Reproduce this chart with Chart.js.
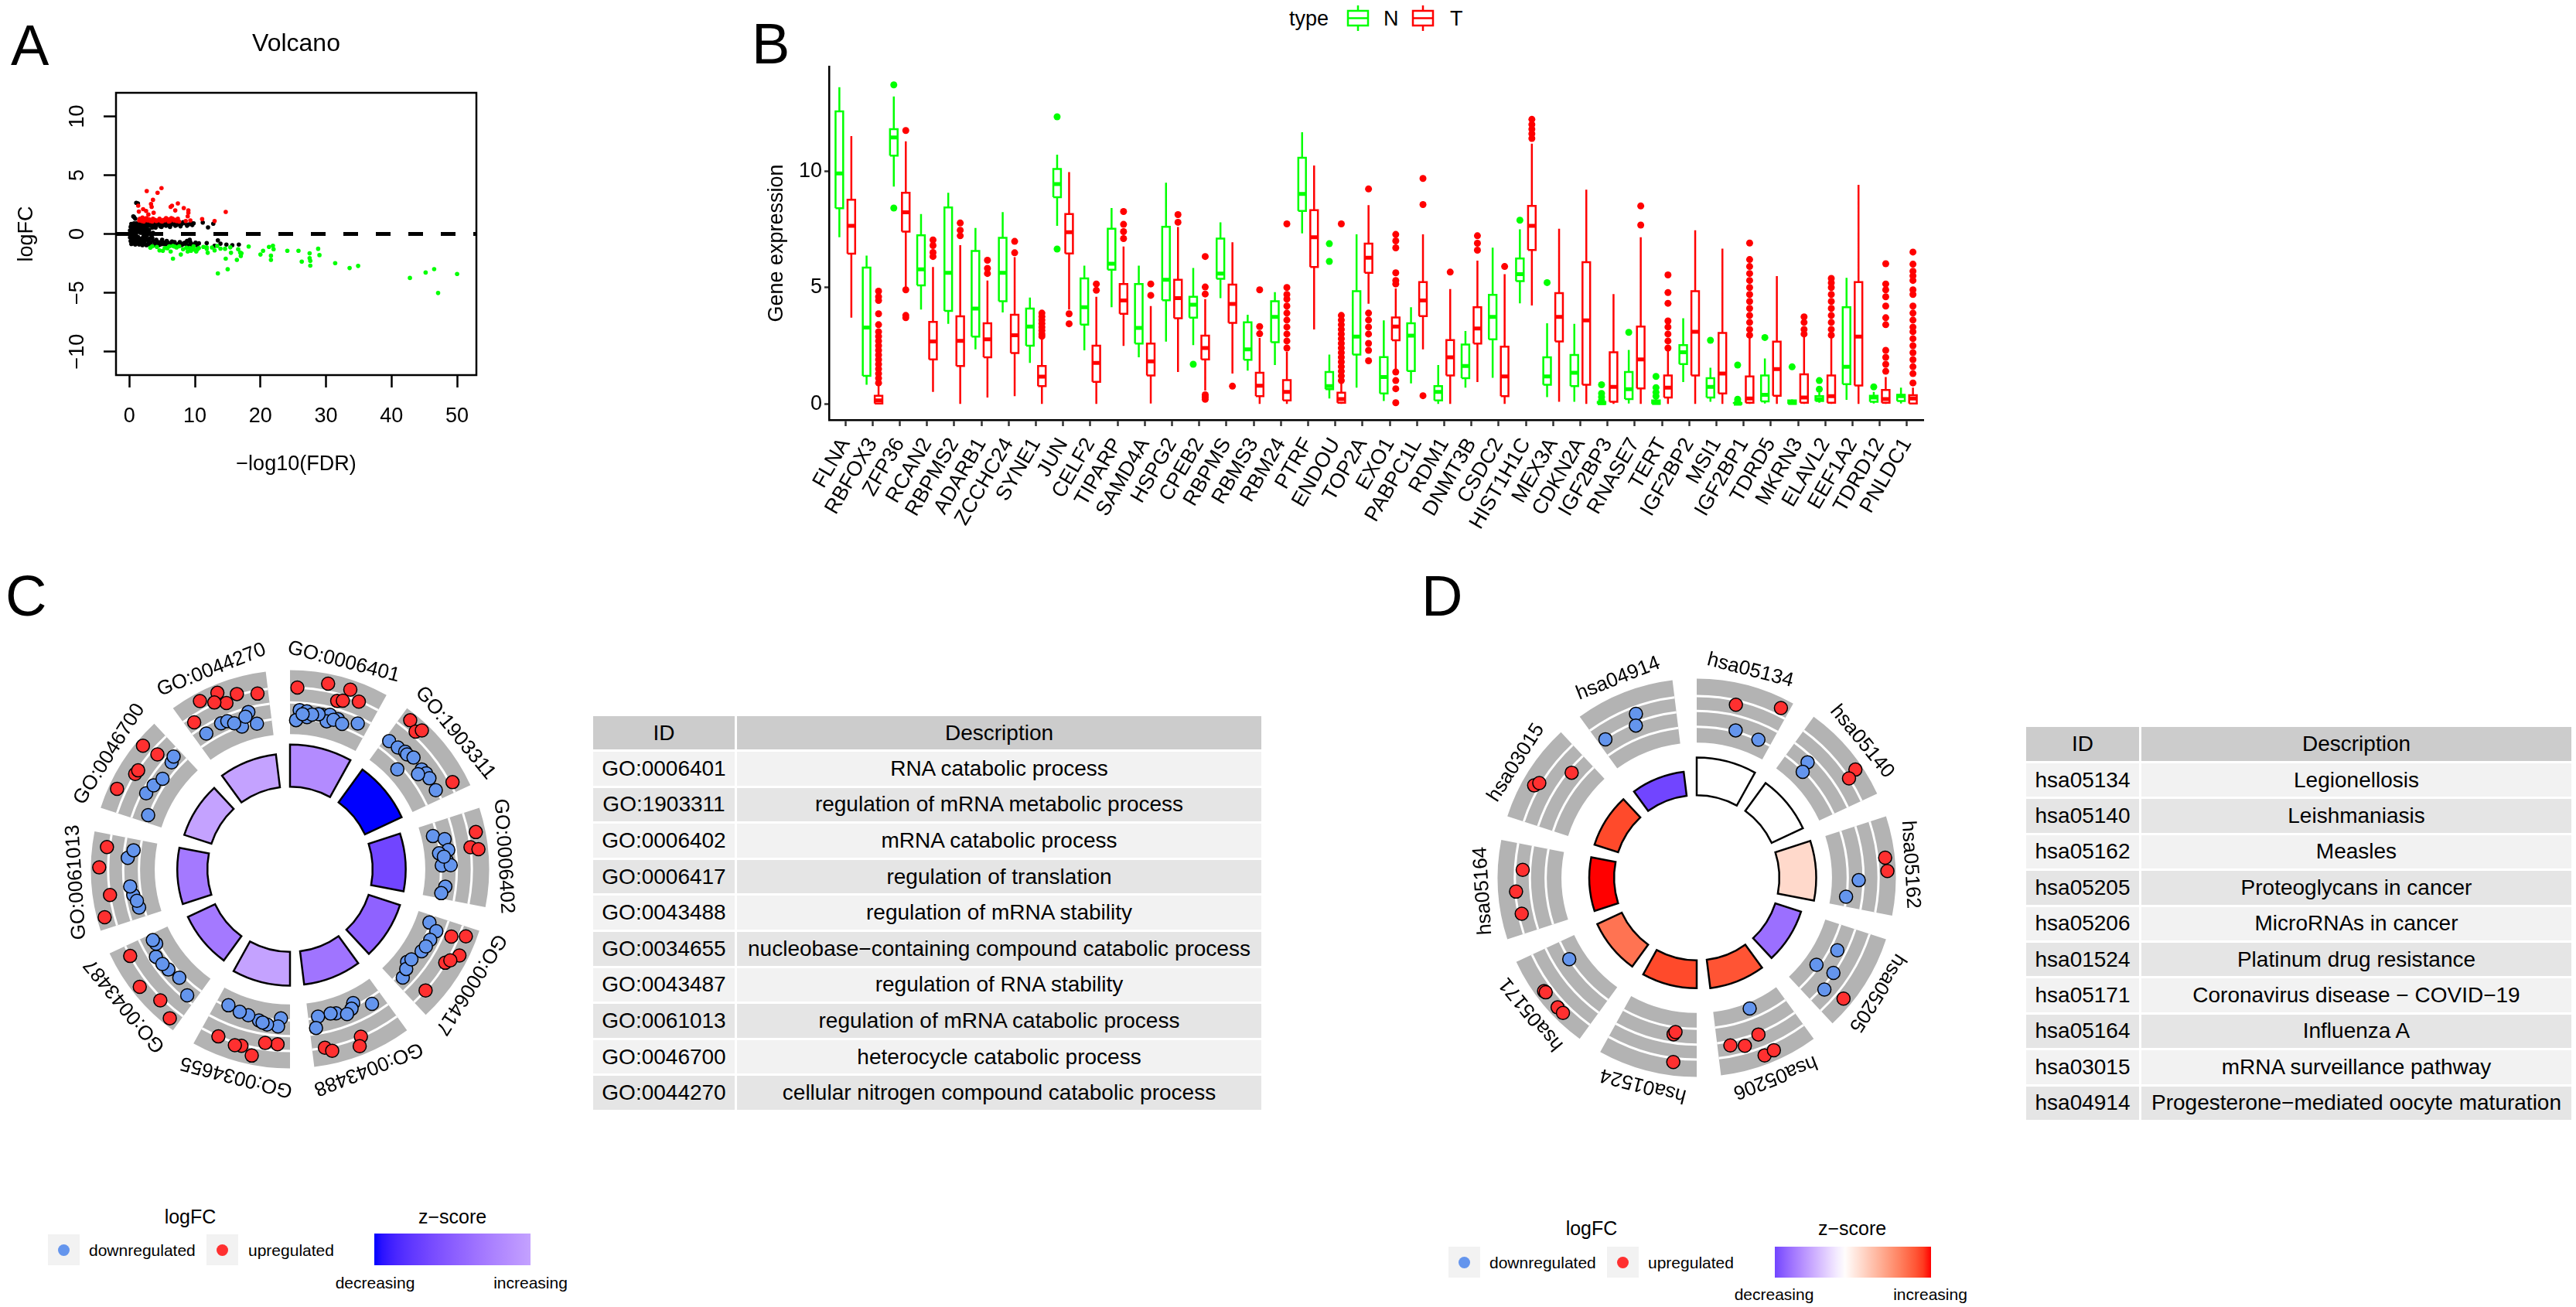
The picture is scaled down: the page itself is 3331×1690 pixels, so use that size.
<!DOCTYPE html>
<html>
<head>
<meta charset="utf-8">
<title>Expression figure</title>
<script src="https://cdn.jsdelivr.net/npm/chart.js@4.4.1/dist/chart.umd.min.js"></script>
<style>
  html, body { margin: 0; padding: 0; background: #fff; }
  body { position: relative; width: 3331px; height: 1690px; overflow: hidden;
         font-family: "Liberation Sans", Arial, sans-serif; color: #000; }
  .box { position: absolute; }
  .letter { position: absolute; font-size: 74px; line-height: 1; }
  .txt { position: absolute; white-space: nowrap; line-height: 1; }
  .ctr { transform: translate(-50%, -50%); }
  .mid { transform: translateY(-50%); }
  table.tbl { position: absolute; border-collapse: separate; border-spacing: 3px; table-layout: fixed;
              font-size: 28px; background: #fff; }
  table.tbl th { background: #CCCCCC; font-weight: normal; padding: 0; text-align: center; }
  table.tbl td { padding: 0; text-align: center; white-space: nowrap; }
  table.tbl tr:nth-child(even) td { background: #F2F2F2; }
  table.tbl tr:nth-child(odd) td { background: #E5E5E5; }
  .key { position: absolute; background: #F2F2F2; }
  .dot { position: absolute; border-radius: 50%; }
</style>
</head>
<body>

<div class="letter" style="left:14px;top:22px">A</div>
<div class="letter" style="left:972px;top:20px">B</div>
<div class="letter" style="left:7px;top:734px;z-index:2">C</div>
<div class="letter" style="left:1838px;top:734px;z-index:2">D</div>

<canvas id="volcano" class="box" style="left:0;top:0" width="660" height="640"></canvas>
<canvas id="boxes" class="box" style="left:960px;top:60px" width="1560" height="640"></canvas>
<canvas id="goCircle" class="box" style="left:25px;top:774px" width="700" height="700"></canvas>
<canvas id="keggCircle" class="box" style="left:1844px;top:785px" width="700" height="700"></canvas>

<!-- B legend -->
<div class="txt mid" style="left:1667px;top:24px;font-size:27px">type</div>
<svg class="box" style="left:1740px;top:7px" width="32" height="33">
  <line x1="16" y1="0" x2="16" y2="33" stroke="#00FF00" stroke-width="2.5"/>
  <rect x="3" y="7" width="26" height="19" fill="#fff" stroke="#00FF00" stroke-width="2.5"/>
  <line x1="3" y1="16.5" x2="29" y2="16.5" stroke="#00FF00" stroke-width="2.5"/>
</svg>
<div class="txt mid" style="left:1789px;top:24px;font-size:27px">N</div>
<svg class="box" style="left:1824px;top:7px" width="32" height="33">
  <line x1="16" y1="0" x2="16" y2="33" stroke="#FF0000" stroke-width="2.5"/>
  <rect x="3" y="7" width="26" height="19" fill="#fff" stroke="#FF0000" stroke-width="2.5"/>
  <line x1="3" y1="16.5" x2="29" y2="16.5" stroke="#FF0000" stroke-width="2.5"/>
</svg>
<div class="txt mid" style="left:1875px;top:24px;font-size:27px">T</div>

<!-- tables -->
<table id="goTable" class="tbl" style="left:764px;top:923px;width:870px"></table>
<table id="keggTable" class="tbl" style="left:2617px;top:937px;width:711px"></table>

<!-- C legend -->
<div class="txt ctr" style="left:246px;top:1573px;font-size:25px">logFC</div>
<div class="key" style="left:62px;top:1596px;width:41px;height:40px"></div>
<div class="dot" style="left:75px;top:1608.5px;width:15px;height:15px;background:#6495ED"></div>
<div class="txt mid" style="left:115px;top:1616px;font-size:21px">downregulated</div>
<div class="key" style="left:267px;top:1596px;width:41px;height:40px"></div>
<div class="dot" style="left:280px;top:1608.5px;width:15px;height:15px;background:#FF3030"></div>
<div class="txt mid" style="left:321px;top:1616px;font-size:21px">upregulated</div>
<div class="txt ctr" style="left:585px;top:1573px;font-size:25px">z−score</div>
<div id="gradC" class="box" style="left:484px;top:1595px;width:202px;height:41px"></div>
<div class="txt ctr" style="left:485px;top:1658px;font-size:21px">decreasing</div>
<div class="txt ctr" style="left:686px;top:1658px;font-size:21px">increasing</div>

<!-- D legend -->
<div class="txt ctr" style="left:2058px;top:1588px;font-size:25px">logFC</div>
<div class="key" style="left:1873px;top:1612px;width:41px;height:40px"></div>
<div class="dot" style="left:1886px;top:1624.5px;width:15px;height:15px;background:#6495ED"></div>
<div class="txt mid" style="left:1926px;top:1632px;font-size:21px">downregulated</div>
<div class="key" style="left:2078px;top:1612px;width:41px;height:40px"></div>
<div class="dot" style="left:2091px;top:1624.5px;width:15px;height:15px;background:#FF3030"></div>
<div class="txt mid" style="left:2131px;top:1632px;font-size:21px">upregulated</div>
<div class="txt ctr" style="left:2395px;top:1588px;font-size:25px">z−score</div>
<div id="gradD" class="box" style="left:2295px;top:1612px;width:202px;height:40px"></div>
<div class="txt ctr" style="left:2294px;top:1673px;font-size:21px">decreasing</div>
<div class="txt ctr" style="left:2496px;top:1673px;font-size:21px">increasing</div>

<script>
const FONT = '"Liberation Sans", Arial, sans-serif';
Chart.defaults.font.family = FONT;
Chart.defaults.color = '#000';

// ---------- A: volcano (x = -log10 FDR, y = logFC) ----------
const volcanoNs = [
  [0.3,0.05],[0.4,-0.1],[0.5,0.2],[0.5,-0.3],[0.6,0.4],[0.6,-0.45],[0.7,0.1],[0.7,-0.15],[0.8,0.55],[0.8,-0.6],
  [0.9,0.3],[0.9,-0.35],[1.0,0.65],[1.0,-0.7],[1.0,0.0],[1.1,0.45],[1.1,-0.5],[1.2,0.8],[1.2,-0.8],[1.3,0.2],
  [1.3,-0.25],[1.4,0.6],[1.4,-0.65],[1.5,0.9],[1.5,-0.9],[1.6,0.35],[1.6,-0.4],[0.9,1.3],[0.7,1.45],[1.05,2.65],
  [1.3,2.6],[0.6,1.5],
  [0.0,0.0],[0.1,0.3],[0.1,-0.3],[0.2,0.6],[0.2,-0.6],[0.3,0.85],[0.3,-0.85],[0.4,0.3],[0.4,-0.6],[0.5,0.75],
  [0.6,-0.8],[0.7,0.6],[0.7,0.9],[0.8,-0.4],[0.9,0.85],[0.9,-0.9],[1.0,-0.2],[1.1,0.9],[1.2,0.4],[1.2,-0.4],
  [1.3,0.75],[1.3,-0.75],[1.4,0.3],[1.5,0.55],[1.5,-0.55],[1.6,0.8],[1.6,-0.8],[1.7,0.1],[1.8,0.4],[1.8,-0.4],
  [0.5,0.45],[0.3,0.2],[1.1,0.15],
  [2.0,0.1],[2.4,0.05],[2.8,0.15],[3.2,0.05],[3.6,0.1],[2.2,-0.15],[2.7,-0.1],[3.4,-0.15],
  [1.8,0.75],[2.0,0.95],[2.2,0.6],[2.4,0.85],[2.6,0.5],[2.8,0.9],[3.0,0.7],[3.3,0.95],[3.5,0.55],[3.8,0.85],
  [4.1,0.75],[4.4,0.95],[4.7,0.65],[5.0,0.85],[5.3,0.9],[5.6,0.7],[6.0,0.95],[6.4,0.8],[6.8,0.9],[7.2,0.75],
  [7.6,0.95],[8.0,0.85],[8.5,0.9],[9.0,0.8],[9.4,0.95],[2.1,0.3],[2.5,0.25],[3.0,0.35],[2.3,0.15],
  [2.0,0.6],[2.3,1.0],[2.7,0.7],[3.1,1.0],[3.4,0.7],[3.7,1.0],[4.0,0.55],[4.3,0.8],[4.6,0.95],[4.9,0.6],
  [5.2,0.75],[5.5,1.0],[5.8,0.85],[6.2,0.6],[6.6,1.0],[7.0,0.7],[7.4,0.85],[7.8,0.65],[8.2,1.0],[8.8,0.7],
  [9.6,0.75],[9.8,0.9],
  [11.2,0.97],[12.0,0.56],[12.8,0.87],
  [1.8,-0.75],[2.0,-0.95],[2.2,-0.6],[2.4,-0.85],[2.6,-0.5],[2.8,-0.9],[3.0,-0.7],[3.3,-0.95],[3.6,-0.6],[3.9,-0.85],
  [4.2,-0.75],[4.5,-0.95],[4.8,-0.7],[5.1,-0.85],[5.5,-0.9],[5.9,-0.75],[6.3,-0.95],[6.7,-0.8],[7.1,-0.9],[7.5,-0.85],
  [7.9,-0.95],[8.3,-0.8],[8.7,-0.9],[9.1,-0.95],[9.5,-0.85],[9.9,-0.9],[10.3,-0.95],[10.6,-0.8],[2.1,-0.3],[2.5,-0.2],
  [3.1,-0.4],[2.3,-0.1],
  [2.0,-0.5],[2.3,-0.75],[2.6,-0.95],[2.9,-0.45],[3.2,-0.8],[3.5,-0.35],[3.8,-0.95],[4.1,-0.5],[4.4,-0.7],[4.7,-0.9],
  [5.0,-0.5],[5.3,-0.75],[5.7,-0.6],[6.1,-0.85],[6.5,-0.65],[6.9,-0.7],[7.3,-0.95],[7.7,-0.7],[8.1,-0.9],[8.5,-0.75],
  [9.3,-0.7],[9.7,-0.95],[10.1,-0.75],
  [11.8,-0.78],[13.0,-1.0],[13.5,-0.55],[13.9,-0.83],[14.8,-0.9],[15.7,-0.95],[16.7,-0.9],
  [9.2,-0.5],[8.8,-0.6]
];
const volcanoUp = [
  [2.65,3.65],[4.9,3.9],[4.3,3.5],[3.6,2.9],[3.3,2.55],[3.4,2.3],[7.4,2.6],[6.5,2.4],[6.3,2.3],[7.0,2.0],
  [8.3,2.2],[9.0,2.0],[9.0,1.8],[8.9,1.5],[1.35,2.4],[1.45,1.9],[2.1,2.1],[2.55,1.95],[2.9,1.65],[3.7,1.8],
  [14.7,1.87],[11.1,1.26],[13.0,1.1],[1.5,1.15],[1.9,1.1],[2.4,1.2],[2.8,1.15],[3.2,1.1],[3.9,1.2],[4.3,1.15],
  [4.8,1.1],[5.2,1.2],[5.9,1.25],[6.2,1.1],[6.6,1.3],[7.0,1.2],[7.6,1.05],[8.6,1.1],[9.3,1.15],[2.0,1.4],
  [5.6,1.35],[6.8,1.15],
  [1.6,1.3],[2.2,1.05],[2.6,1.35],[3.0,1.25],[3.5,1.05],[3.6,1.3],[4.1,1.1],[4.6,1.3],[5.0,1.05],[5.4,1.15],
  [6.0,1.05],[6.4,1.35],[7.2,1.1],[7.4,1.3]
];
const volcanoDown = [
  [3.2,-1.17],[5.1,-1.43],[5.8,-1.21],[6.65,-1.02],[6.65,-2.1],[6.9,-1.07],[7.85,-1.75],[8.7,-1.17],[8.9,-1.5],
  [9.4,-1.43],[9.6,-1.26],[9.9,-1.33],[10.4,-1.3],[11.8,-1.14],[11.8,-1.26],[11.95,-1.6],[13.5,-3.35],[13.4,-1.02],
  [14.6,-1.26],[14.7,-2.1],[15.0,-3.0],[15.4,-1.14],[15.5,-1.6],[16.4,-2.2],[16.6,-1.3],[16.9,-1.58],[17.1,-1.65],
  [17.0,-1.87],[18.2,-1.07],[20.0,-1.75],[20.4,-1.43],[21.3,-1.1],[21.6,-1.85],[21.6,-2.2],[21.9,-1.0],[22.0,-1.3],
  [24.1,-1.43],[25.8,-1.43],[26.3,-2.35],[27.5,-1.65],[27.5,-2.06],[27.6,-2.28],[27.6,-2.7],[28.8,-1.26],[29.0,-1.8],
  [31.4,-2.48],[33.6,-2.9],[34.9,-2.72],[42.8,-3.74],[45.2,-3.28],[46.5,-2.99],[47.1,-5.02],[50.0,-3.4],
  [3.5,-1.05],[4.2,-1.1],[4.6,-1.4],[5.4,-1.2],[6.1,-1.05],[6.3,-1.5],[7.2,-1.15],[7.6,-1.05],[8.2,-1.3],
  [9.2,-1.2],[9.8,-1.05],[10.2,-1.5],[10.6,-1.2],[11.3,-1.1],[12.6,-1.15],[13.0,-1.4],[13.9,-1.25]
];

// ---------- B: gene expression, N vs T ----------
const genes = ['FLNA','RBFOX3','ZFP36','RCAN2','RBPMS2','ADARB1','ZCCHC24','SYNE1','JUN','CELF2',
  'TIPARP','SAMD4A','HSPG2','CPEB2','RBPMS','RBMS3','RBM24','PTRF','ENDOU','TOP2A',
  'EXO1','PABPC1L','RDM1','DNMT3B','CSDC2','HIST1H1C','MEX3A','CDKN2A','IGF2BP3','RNASE7',
  'TERT','IGF2BP2','MSI1','IGF2BP1','TDRD5','MKRN3','ELAVL2','EEF1A2','TDRD12','PNLDC1'];
// [lower whisker, Q1, median, Q3, upper whisker]
const nStats = [
  [7.16,8.4,9.9,12.56,13.6],[0.82,1.2,3.28,5.85,6.37],[9.33,10.66,11.44,11.8,13.2],[4.05,5.09,5.78,7.24,8.15],
  [3.44,3.99,5.63,8.44,9.07],[2.34,2.89,4.09,6.57,7.56],[3.93,4.41,5.63,7.13,8.24],[1.76,2.5,3.32,4.09,4.57],
  [7.65,8.88,9.44,10.09,10.7],[2.3,3.4,4.15,5.39,5.94],[4.15,5.76,6.02,7.52,8.41],[2.0,2.59,3.26,5.15,5.94],
  [2.67,4.45,5.33,7.61,9.5],[2.52,3.7,4.26,4.6,5.84],[4.54,5.37,5.6,7.1,7.8],[1.43,1.89,2.34,3.5,3.83],
  [1.67,2.65,3.74,4.41,4.8],[7.32,8.29,9.02,10.57,11.67],[0.23,0.63,0.76,1.37,2.12],[0.7,2.12,2.89,4.84,7.28],
  [0.12,0.45,1.15,2.01,3.59],[0.88,1.41,2.93,3.46,4.15],[0,0.15,0.51,0.76,1.67],[0.7,1.1,1.63,2.55,3.13],
  [1.12,2.77,3.74,4.68,6.71],[4.32,5.27,5.57,6.24,7.5],[0.29,0.82,1.18,2.0,3.46],[0.09,0.76,1.34,2.1,3.44],
  [0,0,0.03,0.08,0.12],[0.02,0.21,0.63,1.37,2.32],[0,0,0.05,0.15,0.25],[0.94,1.71,2.22,2.52,3.68],
  [0.09,0.27,0.73,1.1,1.55],[0,0,0.01,0.03,0.05],[0.02,0.11,0.39,1.22,1.95],[0,0,0.05,0.15,0.2],
  [0.05,0.12,0.2,0.33,0.5],[0.17,0.85,1.59,4.15,5.41],[0.02,0.09,0.27,0.35,0.51],[0.02,0.12,0.33,0.39,0.7]
];
const nOutliers = [
  [],[],[13.7,8.41],[],[],[],[],[],[12.33,6.65],[],
  [],[],[],[1.7],[],[],[],[],[6.88,6.12],[],
  [],[],[],[],[],[7.89],[5.21],[],[0.82,0.45,0.3,0.15],[3.07],
  [1.18,0.7,0.5,0.33],[],[2.73],[1.67,0.2,0.1],[2.85],[1.59],[1.0,0.63],[],[0.73],[]
];
const tStats = [
  [3.7,6.45,7.65,8.77,11.5],[0,0.02,0.15,0.35,0.8],[5.0,7.4,8.23,9.07,11.28],[0.51,1.91,2.68,3.52,5.88],
  [0,1.63,2.71,3.76,6.82],[0.27,2.0,2.77,3.46,5.3],[0.33,2.18,2.95,3.83,6.3],[0,0.76,1.17,1.63,2.83],
  [4.05,6.46,7.37,8.15,9.96],[0,0.95,1.76,2.5,4.6],[2.49,3.87,4.44,5.15,6.76],[0.02,1.22,1.83,2.59,4.2],
  [1.37,3.68,4.54,5.33,7.6],[0.57,1.91,2.4,2.93,4.5],[1.3,3.48,4.29,5.12,6.94],[0,0.33,0.78,1.34,2.83],
  [0,0.15,0.51,1.02,2.24],[3.2,5.88,7.16,8.32,10.24],[0,0.05,0.21,0.48,0.88],[4.3,5.63,6.28,6.88,8.54],
  [1.49,2.73,3.32,3.71,4.96],[2.34,3.77,4.44,5.23,7.28],[0,1.22,2.0,2.74,4.93],[0.94,2.59,3.24,4.15,6.15],
  [0,0.33,1.18,2.46,5.57],[4.23,6.61,7.65,8.5,11.18],[0.09,2.68,3.74,4.76,7.52],[0,0.82,3.59,6.09,9.2],
  [0,0.09,0.73,2.22,4.72],[0,0.66,1.91,3.32,7.16],[0,0.27,0.7,1.22,2.37],[0,1.22,3.1,4.84,7.46],
  [0,0.45,1.3,3.05,6.67],[0,0.05,0.23,1.18,2.83],[0,0.35,1.49,2.67,5.49],[0,0.05,0.27,1.27,2.95],
  [0,0.05,0.33,1.22,2.83],[0,0.79,2.89,5.23,9.41],[0,0.05,0.21,0.6,1.15],[0,0.02,0.23,0.37,0.7]
];
const tOutliers = [
  [],
  [4.84,4.6,4.44,3.87,3.4,3.1,2.9,2.7,2.5,2.3,2.1,1.9,1.7,1.5,1.3,1.1,0.9],
  [11.74,4.9,3.8,3.7],[7.04,6.8,6.5,6.33],[7.77,7.46,7.22],[6.17,5.82,5.6],[6.98,6.49],
  [3.9,3.75,3.6,3.45,3.3,3.15,3.0,2.9],[3.87,3.44],[5.15,4.88],[8.26,7.71,7.4,7.1],[5.15,4.66],[8.13,7.8],
  [6.33,5.02,4.72,0.39,0.3,0.2],[0.76],[4.9,3.32,3.01],
  [7.73,5.0,4.7,4.5,4.2,3.9,3.6,3.3,3.0,2.7,2.4],[],
  [7.73,3.8,3.6,3.4,3.2,3.0,2.8,2.6,2.4,2.2,2.0,1.8,1.6,1.4,1.2,1.0],
  [9.23,3.9,3.6,3.3,3.0,2.6,2.3,1.85],[7.28,7.0,6.7,5.63,5.3,5.15,1.37,1.0,0.65,0.05],[9.68,8.56,0.35],
  [5.66],[7.22,6.9,6.6],[5.9],[12.22,12.0,11.8,11.6,11.4],[],[],[],[8.5,7.68],
  [5.54,4.78,4.32,3.56,3.3,3.0,2.7,2.4],[],[],
  [6.91,6.2,5.9,5.6,5.3,5.0,4.7,4.4,4.1,3.8,3.5,3.2,2.95],[],[3.74,3.5,3.2,3.0],
  [5.39,5.2,5.0,4.7,4.4,4.1,3.8,3.5,3.2,2.95],[],
  [6.02,5.15,4.9,4.6,4.2,3.7,3.4,2.3,2.0,1.7,1.4],
  [6.52,6.0,5.7,5.5,5.3,4.9,4.7,4.2,3.9,3.6,3.3,3.1,2.8,2.5,2.2,1.9,1.6,1.3,0.9]
];

// ---------- C: GO terms ----------
const goIds = ['GO:0006401','GO:1903311','GO:0006402','GO:0006417','GO:0043488',
  'GO:0034655','GO:0043487','GO:0061013','GO:0046700','GO:0044270'];
const goDesc = ['RNA catabolic process','regulation of mRNA metabolic process','mRNA catabolic process',
  'regulation of translation','regulation of mRNA stability','nucleobase−containing compound catabolic process',
  'regulation of RNA stability','regulation of mRNA catabolic process','heterocycle catabolic process',
  'cellular nitrogen compound catabolic process'];
const goSig = [5.6, 5.4, 4.4, 4.4, 4.45, 4.5, 4.0, 4.0, 3.8, 4.4];
const goZ = [-2.5, -5.0, -4.0, -3.4, -3.0, -2.0, -2.9, -2.9, -2.0, -2.0];
// genes per term: [position along the term (0..1), position across the logFC band (0..1)]
const goUp = [
  [[0.08,0.73],[0.40,0.85],[0.64,0.85],[0.54,0.62],[0.60,0.65],[0.77,0.72]],
  [[0.10,0.88],[0.22,0.80],[0.26,0.88],[0.89,0.77]],
  [[0.23,0.85],[0.38,0.73],[0.41,0.85]],
  [[0.16,0.62],[0.10,0.83],[0.31,0.86],[0.45,0.72],[0.40,0.77],[0.82,0.73]],
  [[0.45,0.73],[0.50,0.86],[0.86,0.73],[0.79,0.80]],
  [[0.14,0.63],[0.28,0.63],[0.40,0.86],[0.53,0.75],[0.60,0.77],[0.80,0.73]],
  [[0.10,0.88],[0.30,0.77],[0.55,0.87],[0.88,0.73]],
  [[0.12,0.88],[0.34,0.73],[0.64,0.87],[0.86,0.77]],
  [[0.24,0.87],[0.47,0.73],[0.52,0.72],[0.76,0.89],[0.79,0.63]],
  [[0.10,0.63],[0.27,0.87],[0.47,0.87],[0.52,0.67],[0.66,0.75],[0.88,0.68],[0.40,0.75]]
];
const goDown = [
  [[0.12,0.38],[0.21,0.37],[0.08,0.22],[0.41,0.35],[0.50,0.38],[0.61,0.35],[0.48,0.27],[0.86,0.40],[0.22,0.28],[0.36,0.35],[0.28,0.33],[0.56,0.32],[0.68,0.30],[0.16,0.32]],
  [[0.06,0.42],[0.19,0.43],[0.29,0.46],[0.33,0.45],[0.41,0.49],[0.38,0.18],[0.58,0.47],[0.65,0.49],[0.72,0.49],[0.60,0.38],[0.88,0.48]],
  [[0.17,0.18],[0.24,0.35],[0.38,0.38],[0.41,0.23],[0.51,0.34],[0.57,0.26],[0.57,0.40],[0.84,0.33],[0.93,0.28],[0.46,0.30]],
  [[0.10,0.22],[0.17,0.37],[0.30,0.34],[0.48,0.31],[0.40,0.33],[0.70,0.22],[0.89,0.33],[0.78,0.28],[0.64,0.25]],
  [[0.16,0.35],[0.37,0.20],[0.42,0.27],[0.63,0.25],[0.70,0.23],[0.87,0.23],[0.92,0.40],[0.50,0.32]],
  [[0.12,0.22],[0.15,0.35],[0.29,0.34],[0.40,0.30],[0.55,0.26],[0.67,0.25],[0.84,0.22],[0.35,0.32]],
  [[0.11,0.43],[0.33,0.31],[0.50,0.35],[0.72,0.39],[0.86,0.28],[0.92,0.30],[0.60,0.37]],
  [[0.13,0.32],[0.30,0.37],[0.41,0.40],[0.76,0.43],[0.86,0.35],[0.22,0.33]],
  [[0.10,0.26],[0.34,0.43],[0.47,0.39],[0.60,0.33],[0.83,0.38],[0.90,0.42]],
  [[0.15,0.38],[0.37,0.41],[0.45,0.40],[0.60,0.24],[0.73,0.43],[0.80,0.22],[0.52,0.33],[0.68,0.37]]
];

// ---------- D: KEGG pathways ----------
const keggIds = ['hsa05134','hsa05140','hsa05162','hsa05205','hsa05206',
  'hsa01524','hsa05171','hsa05164','hsa03015','hsa04914'];
const keggDesc = ['Legionellosis','Leishmaniasis','Measles','Proteoglycans in cancer','MicroRNAs in cancer',
  'Platinum drug resistance','Coronavirus disease − COVID−19','Influenza A','mRNA surveillance pathway',
  'Progesterone−mediated oocyte maturation'];
const keggSig = [5.0, 4.6, 4.9, 3.6, 3.8, 3.7, 3.6, 3.3, 3.3, 3.2];
const keggZ = [0, 0, 0.8, -2.5, 3.3, 3.45, 2.8, 4.0, 3.45, -3.2];
const keggUp = [
  [[0.44,0.66],[0.91,0.85]],
  [[0.68,0.89],[0.72,0.73]],
  [[0.41,0.85],[0.55,0.87]],
  [[0.74,0.86]],
  [[0.50,0.52],[0.85,0.56],[0.69,0.62],[0.52,0.86],[0.41,0.84]],
  [[0.29,0.36],[0.27,0.32],[0.25,0.79]],
  [[0.60,0.86],[0.58,0.85],[0.38,0.86],[0.30,0.86]],
  [[0.71,0.61],[0.47,0.72],[0.22,0.68]],
  [[0.40,0.81],[0.45,0.76],[0.76,0.44]],
  []
];
const keggDown = [
  [[0.51,0.27],[0.83,0.25]],
  [[0.27,0.39],[0.31,0.23]],
  [[0.65,0.42],[0.87,0.24]],
  [[0.32,0.36],[0.62,0.20],[0.58,0.49],[0.80,0.54]],
  [[0.48,0.09]],
  [],
  [[0.74,0.25]],
  [],
  [],
  [[0.09,0.48],[0.54,0.62],[0.49,0.45]]
];

// ---------- colour helpers (Lab blend like ggplot's gradient2) ----------
function toLin(c) { c /= 255; return c <= 0.04045 ? c / 12.92 : Math.pow((c + 0.055) / 1.055, 2.4); }
function fromLin(c) {
  c = c <= 0.0031308 ? 12.92 * c : 1.055 * Math.pow(Math.max(c, 0), 1 / 2.4) - 0.055;
  return Math.round(255 * Math.min(1, Math.max(0, c)));
}
function rgbToLab(rgb) {
  const [r, g, b] = rgb.map(toLin);
  const X = (0.4124 * r + 0.3576 * g + 0.1805 * b) / 0.95047;
  const Y = 0.2126 * r + 0.7152 * g + 0.0722 * b;
  const Z = (0.0193 * r + 0.1192 * g + 0.9505 * b) / 1.08883;
  const f = t => t > 0.008856 ? Math.cbrt(t) : 7.787 * t + 16 / 116;
  return [116 * f(Y) - 16, 500 * (f(X) - f(Y)), 200 * (f(Y) - f(Z))];
}
function labToRgb([L, a, bb]) {
  const fy = (L + 16) / 116, fx = fy + a / 500, fz = fy - bb / 200;
  const inv = t => t * t * t > 0.008856 ? t * t * t : (t - 16 / 116) / 7.787;
  const X = inv(fx) * 0.95047, Y = inv(fy), Z = inv(fz) * 1.08883;
  return [3.2406 * X - 1.5372 * Y - 0.4986 * Z,
          -0.9689 * X + 1.8758 * Y + 0.0415 * Z,
          0.0557 * X - 0.2040 * Y + 1.0570 * Z].map(fromLin);
}
const LAB_WHITE = rgbToLab([255, 255, 255]);
const LAB_BLUE = rgbToLab([0, 0, 255]);
const LAB_RED = rgbToLab([255, 0, 0]);
function zColor(z, zmax) {
  const t = Math.min(1, Math.abs(z) / zmax);
  const end = z < 0 ? LAB_BLUE : LAB_RED;
  const rgb = labToRgb(LAB_WHITE.map((w, k) => w + t * (end[k] - w)));
  return `rgb(${rgb[0]},${rgb[1]},${rgb[2]})`;
}
function gradientCss(zs) {
  const zmax = Math.max(...zs.map(Math.abs));
  const lo = Math.min(...zs), hi = Math.max(...zs);
  const stops = [];
  for (let s = 0; s <= 20; s++) {
    stops.push(`${zColor(lo + (hi - lo) * s / 20, zmax)} ${s * 5}%`);
  }
  return `linear-gradient(to right, ${stops.join(',')})`;
}

const xy = arr => arr.map(([x, y]) => ({x, y}));
const noHover = {legend: {display: false}, tooltip: {enabled: false}};

// ---------- A ----------
const plotFrame = {
  id: 'plotFrame',
  afterDatasetsDraw(chart) {
    const {ctx, chartArea: a} = chart;
    const y0 = chart.scales.y.getPixelForValue(0);
    ctx.save();
    ctx.strokeStyle = '#000';
    ctx.lineWidth = 5;
    ctx.setLineDash([19, 23]);
    ctx.beginPath(); ctx.moveTo(a.left, y0); ctx.lineTo(a.right, y0); ctx.stroke();
    ctx.setLineDash([]);
    ctx.lineWidth = 2.5;
    ctx.strokeRect(a.left, a.top, a.right - a.left, a.bottom - a.top);
    ctx.restore();
  }
};
const rTick = {display: true, drawOnChartArea: false, drawTicks: true, tickLength: 16, tickColor: '#000', tickWidth: 2.5};

new Chart(document.getElementById('volcano'), {
  type: 'scatter',
  data: {datasets: [
    {data: xy(volcanoDown), backgroundColor: '#00FF00', borderWidth: 0, pointRadius: 2.8},
    {data: xy(volcanoUp), backgroundColor: '#FF0000', borderWidth: 0, pointRadius: 2.8},
    {data: xy(volcanoNs), backgroundColor: '#000000', borderWidth: 0, pointRadius: 2.8}
  ]},
  options: {
    responsive: false, animation: false, devicePixelRatio: 1, events: [],
    layout: {padding: {top: 0, right: 44, bottom: 0, left: 0}},
    plugins: {...noHover,
      title: {display: true, text: 'Volcano', fullSize: false, color: '#000',
              font: {size: 32, weight: 'normal'}, padding: {top: 37.8, bottom: 43.8}}},
    scales: {
      x: {type: 'linear', min: -2.04, max: 52.94, afterFit: s => { s.height = 155; },
          ticks: {stepSize: 10, includeBounds: false, padding: 21, color: '#000', font: {size: 27}},
          grid: rTick, border: {display: false},
          title: {display: true, text: '−log10(FDR)', color: '#000', font: {size: 27}, padding: {top: 0, bottom: 22.8}}},
      y: {type: 'linear', min: -12, max: 12, afterFit: s => { s.width = 150; },
          ticks: {stepSize: 5, includeBounds: false, minRotation: 90, maxRotation: 90, crossAlign: 'center',
                  padding: 11, color: '#000', font: {size: 27}, callback: v => String(v).replace('-', '−')},
          grid: rTick, border: {display: false},
          title: {display: true, text: 'logFC', color: '#000', font: {size: 27}, padding: {top: 18.8, bottom: 0}}}
    }
  },
  plugins: [plotFrame]
});

// ---------- B ----------
const BOX_OFF = 0.22, BOX_HALF = 0.14;
function boxOutline(stats, off) {
  const pts = [];
  stats.forEach(([lo, q1, , q3, hi], i) => {
    const x = i + off;
    pts.push({x: x - BOX_HALF, y: q1}, {x: x + BOX_HALF, y: q1}, {x: x + BOX_HALF, y: q3},
             {x: x - BOX_HALF, y: q3}, {x: x - BOX_HALF, y: q1}, {x, y: null},
             {x, y: q3}, {x, y: hi}, {x, y: null}, {x, y: lo}, {x, y: q1}, {x, y: null});
  });
  return pts;
}
function medians(stats, off) {
  const pts = [];
  stats.forEach((s, i) => {
    const x = i + off;
    pts.push({x: x - BOX_HALF, y: s[2]}, {x: x + BOX_HALF, y: s[2]}, {x, y: null});
  });
  return pts;
}
function outlierPts(list, off) {
  const pts = [];
  list.forEach((vals, i) => vals.forEach(v => pts.push({x: i + off, y: v})));
  return pts;
}
const lineSet = (data, color, width) => ({data, showLine: true, spanGaps: false, borderColor: color,
  borderWidth: width, pointRadius: 0, pointHoverRadius: 0, fill: false, clip: false});

new Chart(document.getElementById('boxes'), {
  type: 'scatter',
  data: {datasets: [
    lineSet(medians(nStats, -BOX_OFF), '#00FF00', 5),
    lineSet(medians(tStats, BOX_OFF), '#FF0000', 5),
    lineSet(boxOutline(nStats, -BOX_OFF), '#00FF00', 2.5),
    lineSet(boxOutline(tStats, BOX_OFF), '#FF0000', 2.5),
    {data: outlierPts(nOutliers, -BOX_OFF), backgroundColor: '#00FF00', borderWidth: 0, pointRadius: 4.5},
    {data: outlierPts(tOutliers, BOX_OFF), backgroundColor: '#FF0000', borderWidth: 0, pointRadius: 4.5}
  ]},
  options: {
    responsive: false, animation: false, devicePixelRatio: 1, events: [],
    layout: {padding: {top: 26, right: 33, bottom: 0, left: 0}},
    plugins: noHover,
    scales: {
      x: {type: 'linear', min: -0.6, max: 39.6, afterFit: s => { s.height = 157; },
          ticks: {stepSize: 1, includeBounds: false, autoSkip: false, minRotation: 60, maxRotation: 60,
                  padding: 10, color: '#000', font: {size: 27},
                  callback: v => { const i = Math.round(v); return Math.abs(v - i) < 1e-6 && genes[i] ? genes[i] : ''; }},
          grid: {display: true, drawOnChartArea: false, tickLength: 8, tickColor: '#333', tickWidth: 2.5},
          border: {display: true, color: '#000', width: 2.5}},
      y: {type: 'linear', min: -0.69, max: 14.49, afterFit: s => { s.width = 112; },
          ticks: {stepSize: 5, includeBounds: false, padding: 3, color: '#000', font: {size: 27}},
          grid: {display: true, drawOnChartArea: false, tickLength: 6, tickColor: '#333', tickWidth: 2.5},
          border: {display: true, color: '#000', width: 2.5},
          title: {display: true, text: 'Gene expression', color: '#000', font: {size: 27}, padding: {top: 28.8, bottom: 0}}}
    }
  }
});

// ---------- C / D circles ----------
const SEG = 36, SPAN = 29;
const BAND_IN = 180, BAND_OUT = 265, LANES = [201, 222, 242];
const BAR_IN = 110, BAR_K = 10, LABEL_R = 285;
const rad = d => d * Math.PI / 180;

function ringPoints(terms) {
  const pts = [];
  terms.forEach((list, i) => list.forEach(([f, lv]) => {
    const th = rad(i * SEG + f * SPAN);
    const r = BAND_IN + lv * (BAND_OUT - BAND_IN);
    pts.push({x: r * Math.sin(th), y: r * Math.cos(th)});
  }));
  return pts;
}
function ringPlugin(ids, sig, zs) {
  const zmax = Math.max(...zs.map(Math.abs));
  return {
    id: 'ring',
    beforeDatasetsDraw(chart) {
      const {ctx} = chart;
      const xs = chart.scales.x, ys = chart.scales.y;
      const cx = xs.getPixelForValue(0), cy = ys.getPixelForValue(0);
      const k = xs.getPixelForValue(1) - cx;
      ids.forEach((id, i) => {
        const a0 = rad(i * SEG - 90), a1 = rad(i * SEG + SPAN - 90);
        ctx.save();
        ctx.beginPath();
        ctx.arc(cx, cy, BAND_OUT * k, a0, a1);
        ctx.arc(cx, cy, BAND_IN * k, a1, a0, true);
        ctx.closePath();
        ctx.fillStyle = '#B3B3B3';
        ctx.fill();
        ctx.strokeStyle = '#FFFFFF';
        ctx.lineWidth = 3;
        LANES.forEach(r => { ctx.beginPath(); ctx.arc(cx, cy, r * k, a0, a1); ctx.stroke(); });

        ctx.beginPath();
        ctx.arc(cx, cy, (BAR_IN + sig[i] * BAR_K) * k, a0, a1);
        ctx.arc(cx, cy, BAR_IN * k, a1, a0, true);
        ctx.closePath();
        ctx.fillStyle = zColor(zs[i], zmax);
        ctx.fill();
        ctx.strokeStyle = '#000';
        ctx.lineWidth = 2.5;
        ctx.stroke();

        const tc = rad(i * SEG + SPAN / 2);
        ctx.translate(cx + LABEL_R * k * Math.sin(tc), cy - LABEL_R * k * Math.cos(tc));
        ctx.rotate(tc);
        ctx.font = `26px ${FONT}`;
        ctx.fillStyle = '#000';
        ctx.textAlign = 'center';
        ctx.textBaseline = 'middle';
        ctx.fillText(id, 0, 0);
        ctx.restore();
      });
    }
  };
}
function drawCircle(canvasId, ids, sig, zs, up, down) {
  new Chart(document.getElementById(canvasId), {
    type: 'scatter',
    data: {datasets: [
      {data: ringPoints(up), backgroundColor: '#FF3030', borderColor: '#000', borderWidth: 1.5, pointRadius: 8.5},
      {data: ringPoints(down), backgroundColor: '#6495ED', borderColor: '#000', borderWidth: 1.5, pointRadius: 8.5}
    ]},
    options: {
      responsive: false, animation: false, devicePixelRatio: 1, events: [],
      layout: {padding: 0},
      plugins: noHover,
      scales: {x: {display: false, min: -350, max: 350}, y: {display: false, min: -350, max: 350}}
    },
    plugins: [ringPlugin(ids, sig, zs)]
  });
}
drawCircle('goCircle', goIds, goSig, goZ, goUp, goDown);
drawCircle('keggCircle', keggIds, keggSig, keggZ, keggUp, keggDown);

document.getElementById('gradC').style.background = gradientCss(goZ);
document.getElementById('gradD').style.background = gradientCss(keggZ);

// ---------- tables ----------
function fillTable(id, ids, desc, idW, descW, headH, rowH) {
  const t = document.getElementById(id);
  let html = `<tr style="height:${headH}px"><th style="width:${idW}px">ID</th><th style="width:${descW}px">Description</th></tr>`;
  ids.forEach((v, i) => { html += `<tr style="height:${rowH}px"><td>${v}</td><td>${desc[i]}</td></tr>`; });
  t.innerHTML = html;
}
fillTable('goTable', goIds, goDesc, 183, 678, 43, 43.6);
fillTable('keggTable', keggIds, keggDesc, 146, 556, 44, 43.4);
</script>
</body>
</html>
